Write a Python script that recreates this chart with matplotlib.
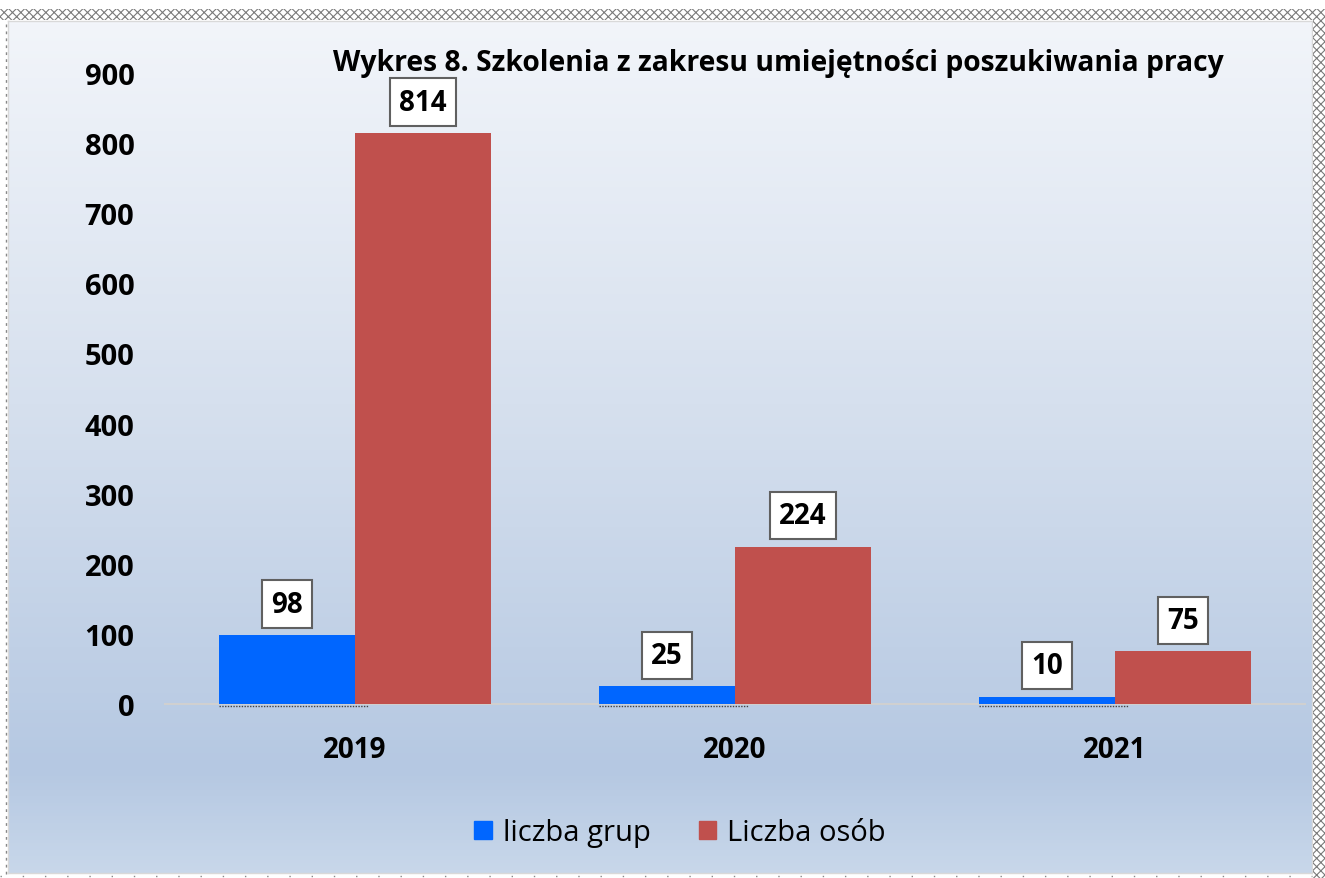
import numpy as np
import matplotlib
matplotlib.use("Agg")
import matplotlib.pyplot as plt
from matplotlib.colors import LinearSegmentedColormap
from matplotlib.patches import Rectangle
from matplotlib.lines import Line2D

plt.rcParams['font.family'] = ['Open Sans', 'DejaVu Sans']
plt.rcParams['hatch.linewidth'] = 0.8

years = ["2019", "2020", "2021"]
groups = [98, 25, 10]
people = [814, 224, 75]
series_names = ["liczba grup", "Liczba osób"]
yticks = [0, 100, 200, 300, 400, 500, 600, 700, 800, 900]
title = "Wykres 8. Szkolenia z zakresu umiejętności poszukiwania pracy"

W, H = 1325, 879
fig = plt.figure(figsize=(W / 100, H / 100), dpi=100)
fig.patch.set_facecolor("white")

# background panel with gradient
bg = fig.add_axes([8 / W, 1 - 874 / H, (1312 - 8) / W, (874 - 22) / H], zorder=0)
cmap = LinearSegmentedColormap.from_list(
    "bg", [(0, "#f2f5fa"), (0.45, "#d6e0ee"), (0.88, "#b5c8e2"), (1.0, "#c8d7ea")])
grad = np.linspace(0, 1, 256).reshape(-1, 1)
bg.imshow(grad, aspect="auto", cmap=cmap, extent=[0, 1, 1, 0])
bg.set_xlim(0, 1)
bg.set_ylim(1, 0)
bg.set_xticks([])
bg.set_yticks([])
for s in bg.spines.values():
    s.set_color("#d9d9d9")
    s.set_linewidth(1.0)

# hatched outer frame (top and right)
fig.patches.append(Rectangle((0, 1 - 21 / H), 1, 11 / H, transform=fig.transFigure,
                             facecolor="white", edgecolor="#7a7a7a", linewidth=0,
                             hatch="xxxx", zorder=1))
fig.patches.append(Rectangle((1313 / W, 0), 12 / W, 1 - 10 / H, transform=fig.transFigure,
                             facecolor="white", edgecolor="#7a7a7a", linewidth=0,
                             hatch="xxxx", zorder=1))
fig.add_artist(Line2D([6 / W, 6 / W], [4 / H, 1 - 22 / H], transform=fig.transFigure,
                      color="#888888", lw=1, ls=(0, (2, 3)), zorder=2))
fig.add_artist(Line2D([0, 1312 / W], [2 / H, 2 / H], transform=fig.transFigure,
                      color="#888888", lw=1, ls=(0, (1, 15)), zorder=2))

# main axes
ax = fig.add_axes([165 / W, 1 - 705 / H, (1305 - 165) / W, (705 - 74) / H], zorder=3)
ax.patch.set_alpha(0)
x = np.arange(len(years))
bw = 0.357
ax.bar(x - bw / 2, groups, width=bw, color="#0066ff", zorder=3)
ax.bar(x + bw / 2, people, width=bw, color="#c0504d", zorder=3)
ax.set_xlim(-0.5, 2.5)
ax.set_ylim(0, 900)
ax.set_yticks(yticks)
ax.set_yticklabels([str(t) for t in yticks], fontsize=21, fontweight="bold")
ax.set_xticks(x)
ax.set_xticklabels(years, fontsize=20, fontweight="bold")
ax.tick_params(axis="y", length=0, pad=22)
ax.tick_params(axis="x", length=0, pad=22)
for s in ["top", "right", "left"]:
    ax.spines[s].set_visible(False)
ax.spines["bottom"].set_color("#d0d0d0")
ax.spines["bottom"].set_linewidth(1.5)

# dotted artifacts under blue bars
for xi in x:
    ax.plot([xi - bw, xi + 0.035], [-3, -3], color="#444444", lw=1.0,
            ls=(0, (1, 1)), clip_on=False, zorder=4)

# data labels
box = dict(boxstyle="square,pad=0.33", facecolor="white", edgecolor="#606060", linewidth=1.5)
for xi, v in zip(x, groups):
    ax.annotate(str(v), (xi - bw / 2, v), xytext=(0, 12), textcoords="offset points",
                ha="center", va="bottom", fontsize=20, fontweight="bold", bbox=box, zorder=5)
for xi, v in zip(x, people):
    ax.annotate(str(v), (xi + bw / 2, v), xytext=(0, 12), textcoords="offset points",
                ha="center", va="bottom", fontsize=20, fontweight="bold", bbox=box, zorder=5)

fig.text(778 / W, 1 - 64 / H, title, ha="center", va="center", fontsize=20.3,
         fontweight="bold", zorder=5)

handles = [Rectangle((0, 0), 1, 1, color="#0066ff"), Rectangle((0, 0), 1, 1, color="#c0504d")]
fig.legend(handles, series_names, loc="center", bbox_to_anchor=(680 / W, 1 - 834 / H),
           ncol=2, frameon=False, fontsize=21, handlelength=0.6, handleheight=0.6,
           columnspacing=1.65, handletextpad=0.38)

fig.savefig("out.png", dpi=100)
